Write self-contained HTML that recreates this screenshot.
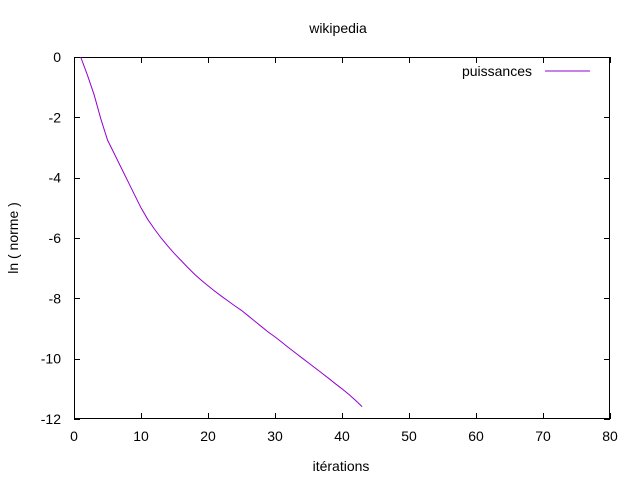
<!DOCTYPE html>
<html><head><meta charset="utf-8"><style>body{margin:0;background:#fff}svg{display:block}text{font-family:"Liberation Sans",sans-serif;font-size:14px;fill:#000}</style></head>
<body>
<svg id="chart" width="640" height="480" xmlns="http://www.w3.org/2000/svg">
<rect width="640" height="480" fill="#fff"/>
<text x="338" y="33" text-anchor="middle">wikipedia</text>
<text x="341" y="471" text-anchor="middle">itérations</text>
<text transform="translate(18,238) rotate(-90)" text-anchor="middle">ln ( norme )</text>
<g id="axes"></g>
<path id="series" fill="none" stroke="#9400d3" stroke-width="1"/>
<text x="532" y="76" text-anchor="end">puissances</text>
<line x1="545" y1="71" x2="590" y2="71" stroke="#9400d3"/>
</svg>
<script>
const iterations=[1,2,3,4,5,6,7,8,9,10,11,12,13,14,15,16,17,18,19,20,21,22,23,24,25,26,27,28,29,30,31,32,33,34,35,36,37,38,39,40,41,42,43];
const lnNorm=[0,-0.6,-1.25,-2.05,-2.75,-3.2,-3.65,-4.1,-4.55,-5.0,-5.38,-5.7,-6.0,-6.27,-6.52,-6.75,-6.98,-7.2,-7.4,-7.58,-7.76,-7.93,-8.09,-8.25,-8.4,-8.58,-8.76,-8.94,-9.12,-9.28,-9.45,-9.63,-9.8,-9.97,-10.14,-10.31,-10.48,-10.65,-10.83,-11.0,-11.18,-11.38,-11.59];
const xTicks=[0,10,20,30,40,50,60,70,80];
const yTicks=[0,-2,-4,-6,-8,-10,-12];
const L=74,R=610,T=57,B=419;
function sx(v){return L+(v-0)/(80-0)*(R-L);}
function sy(v){return T+(0-v)/(0+12)*(B-T);}
const NS="http://www.w3.org/2000/svg";
const g=document.getElementById('axes');
function el(t,a){const e=document.createElementNS(NS,t);for(const k in a)e.setAttribute(k,a[k]);g.appendChild(e);return e;}
const frame=el('rect',{x:L+0.5,y:T+0.5,width:R-L-1,height:B-T-1,fill:'none',stroke:'#000'});


xTicks.forEach(v=>{const x=Math.round(sx(v))+0.5;
 const a=el('line',{x1:x,y1:B,x2:x,y2:B-6,stroke:'#000'});
 
 
 const b=el('line',{x1:x,y1:T,x2:x,y2:T+6,stroke:'#000'});
 
 
 const t=el('text',{x:sx(v),y:B+22,'text-anchor':'middle'});t.textContent=v;
 
 
});
yTicks.forEach(v=>{const y=Math.round(sy(v))+0.5;
 const a=el('line',{x1:L,y1:y,x2:L+6,y2:y,stroke:'#000'});
 
 
 const b=el('line',{x1:R,y1:y,x2:R-6,y2:y,stroke:'#000'});
 
 
 const t=el('text',{x:L-13,y:sy(v)+5,'text-anchor':'end'});t.textContent=v;
 
 
});
document.getElementById('series').setAttribute('d',iterations.map((x,i)=>(i?'L':'M')+sx(x).toFixed(1)+','+sy(lnNorm[i]).toFixed(1)).join(''));
</script>
</body></html>
